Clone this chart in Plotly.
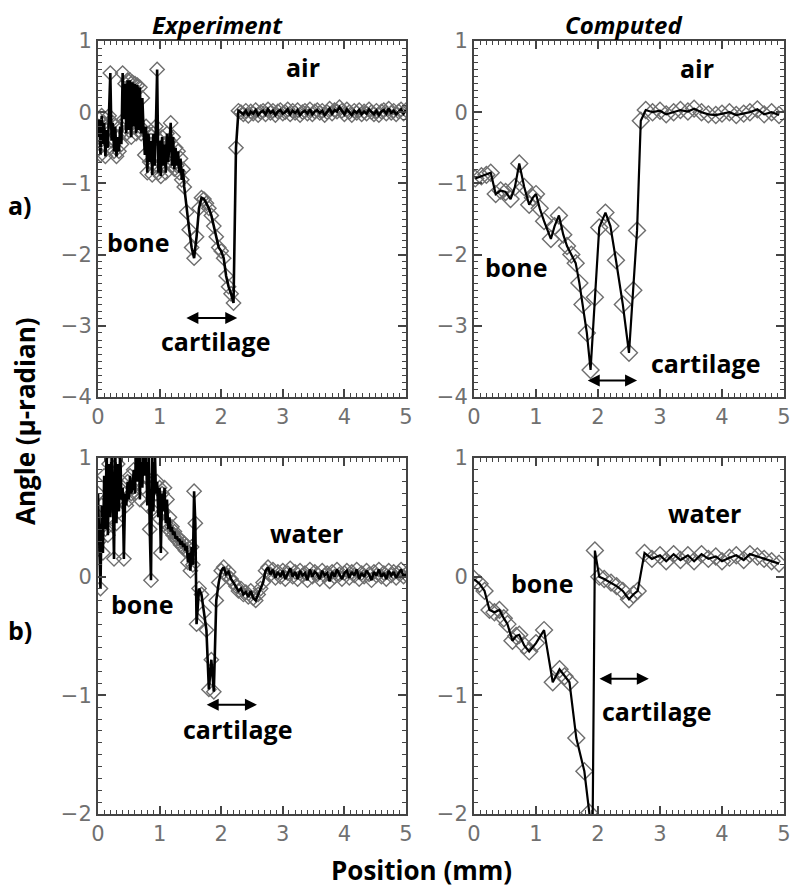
import numpy as np
import plotly.graph_objects as go

# ---------------- data ----------------
# experimental profiles: fine sampling (0.02 mm) in bone, coarser (0.04 mm) after
exp_a_fine_y = [
    -0.35, -0.10, -0.60, -0.05, -0.45, -0.15, -0.62, -0.25, -0.50, -0.05,
    0.55, -0.40, -0.15, -0.55, -0.20, -0.62, -0.35, -0.55, -0.20, -0.45,
    0.55, -0.10, 0.40, -0.30, 0.45, -0.25, 0.45, -0.35, 0.42, -0.20,
    0.40, -0.30, 0.38, -0.25, 0.35, -0.30, 0.20, -0.25, -0.60, -0.20,
    -0.85, -0.30, -0.70, -0.40, -0.88, -0.30, -0.75, -0.20, 0.60, -0.85,
    -0.40, -0.90, -0.35, -0.75, -0.45, -0.85, -0.30, -0.70, -0.40, -0.15,
    -0.75, -0.35, -0.80, -0.50, -0.75, -0.55, -0.85, -0.65, -0.95, -0.80,
    -1.05,
]
exp_a_coarse_y = [
    -1.40, -1.65, -1.90, -2.05, -1.75, -1.35, -1.20, -1.22, -1.28, -1.35,
    -1.45, -1.60, -1.75, -1.90, -1.95, -2.05, -2.30, -2.45, -2.55, -2.68,
    -0.50, 0.02, 0.00, -0.03,
    0.02, -0.05, 0.01, -0.02, 0.03, -0.04, 0.00, 0.02, -0.03, 0.04,
    -0.01, 0.02, -0.04, 0.01, 0.03, -0.02, 0.00, 0.04, -0.03, 0.02,
    -0.01, 0.03, -0.04, 0.00, 0.02, -0.02, 0.04, -0.03, 0.01, 0.03,
    -0.01, 0.02, -0.04, 0.00, 0.05, -0.02, 0.03, 0.01, 0.07, 0.02,
    -0.03, 0.04, 0.00, -0.04, 0.02, -0.01, 0.03, -0.03, 0.01, -0.02,
    0.04, 0.00, -0.03, 0.02, -0.04, 0.01, 0.03, -0.02, 0.05, -0.01,
    0.02, -0.03, 0.01, 0.04, -0.02, 0.03,
]

exp_b_fine_y = [
    0.70, 0.30, -0.10, 0.60, 0.20, 0.85, 0.40, 1.10, 0.35, 0.95,
    0.50, 1.20, 0.60, 0.15, 1.15, 0.45, 0.95, 0.55, 1.10, 0.65,
    0.75, 0.15, 0.70, 0.60, 0.80, 0.65, 0.85, 0.70, 0.75, 0.90,
    0.70, 1.20, 0.80, 1.15, 0.65, 1.10, 0.75, 1.20, 0.85, 1.10,
    0.60, 1.15, 0.40, -0.03, 1.10, 0.55, 1.15, 0.70, 0.80, 0.50,
    0.75, 0.20, 0.70, 0.55, 0.75, 0.45, 0.65, 0.40, 0.50, 0.38,
    0.42, 0.35, 0.38, 0.32, 0.34, 0.30, 0.32, 0.27, 0.30, 0.25,
    0.28, 0.22, 0.26, 0.12, 0.20, 0.05, 0.25, 0.10, 0.72, 0.45,
    -0.40,
]
exp_b_coarse_y = [
    -0.10, -0.15, -0.30, -0.45, -0.95, -0.70, -0.97, -0.20, -0.05,
    0.05, 0.08, 0.02, 0.04, -0.02, -0.05, -0.08, -0.12, -0.10, -0.15,
    -0.13, -0.17, -0.12, -0.18, -0.20, -0.15, -0.10, -0.05, 0.05, 0.08,
    0.02, 0.06, -0.01, 0.04, 0.00, 0.05, -0.02, 0.03, 0.07, 0.00,
    0.04, -0.02, 0.05, 0.01, 0.03, -0.03, 0.06, 0.00, 0.04, 0.02,
    -0.02, 0.05, 0.01, 0.03, -0.04, 0.04, 0.00, 0.06, 0.02, -0.02,
    0.03, 0.05, -0.01, 0.04, 0.01, 0.06, -0.02, 0.03, 0.00, 0.05,
    0.02, -0.03, 0.04, 0.01, 0.06, 0.00, 0.03, -0.02, 0.05, 0.01,
    0.04, -0.01, 0.03, 0.06, 0.00, 0.02,
]

comp_a_x = [0.02, 0.12, 0.20, 0.27, 0.35, 0.43, 0.51, 0.59, 0.66, 0.73,
            0.81, 0.89, 0.95, 1.00, 1.06, 1.13, 1.24, 1.30, 1.37, 1.44,
            1.50, 1.57, 1.64, 1.70, 1.75, 1.82, 1.88, 1.95, 2.02, 2.12,
            2.20, 2.29, 2.40, 2.50, 2.57, 2.63, 2.69, 2.77, 2.88, 3.00,
            3.10, 3.22, 3.33, 3.45, 3.55, 3.67, 3.78, 3.90, 4.00, 4.12,
            4.23, 4.35, 4.45, 4.57, 4.68, 4.80, 4.92]
comp_a_y = [-0.93, -0.90, -0.88, -0.85, -1.15, -1.10, -1.12, -1.22, -1.05, -0.72,
            -1.05, -1.30, -1.20, -1.15, -1.35, -1.53, -1.78, -1.60, -1.45, -1.72,
            -1.88, -2.00, -2.12, -2.40, -2.70, -3.10, -3.62, -2.60, -1.62, -1.41,
            -1.60, -2.08, -2.70, -3.38, -2.50, -1.66, -0.12, 0.03, 0.00, 0.02,
            -0.03, 0.00, 0.03, 0.01, 0.05, 0.00, -0.03, -0.04, -0.02, 0.00,
            -0.04, -0.02, 0.00, 0.04, -0.03, 0.00, -0.04]

comp_b_x = [0.00, 0.09, 0.17, 0.25, 0.33, 0.41, 0.48, 0.54, 0.62, 0.68,
            0.73, 0.81, 0.89, 1.00, 1.13, 1.27, 1.38, 1.46, 1.54, 1.65,
            1.78, 1.86, 1.91, 1.95, 2.02, 2.10, 2.21, 2.30, 2.40, 2.50,
            2.57, 2.64, 2.75, 2.87, 3.00, 3.10, 3.22, 3.33, 3.45, 3.55,
            3.67, 3.78, 3.90, 4.00, 4.12, 4.23, 4.35, 4.45, 4.57, 4.68,
            4.80, 4.92]
comp_b_y = [-0.02, -0.06, -0.12, -0.28, -0.30, -0.28, -0.35, -0.40, -0.54, -0.50,
            -0.49, -0.58, -0.63, -0.56, -0.45, -0.89, -0.78, -0.84, -0.89, -1.36,
            -1.64, -1.99, -2.30, 0.22, 0.00, -0.02, -0.05, -0.08, -0.12, -0.19,
            -0.15, -0.12, 0.20, 0.15, 0.18, 0.13, 0.19, 0.14, 0.18, 0.13,
            0.19, 0.15, 0.17, 0.13, 0.16, 0.18, 0.14, 0.19, 0.17, 0.15,
            0.13, 0.11]

x_ticks = [0, 1, 2, 3, 4, 5]
y_ticks_top = [-4, -3, -2, -1, 0, 1]
y_ticks_bottom = [-2, -1, 0, 1]


def sample_x(n, step, start):
    return np.round(start + np.arange(n) * step, 3)


exp_a_x = np.concatenate([sample_x(len(exp_a_fine_y), 0.02, 0.0),
                          sample_x(len(exp_a_coarse_y), 0.04, 1.44)])
exp_a_y = exp_a_fine_y + exp_a_coarse_y
exp_b_x = np.concatenate([sample_x(len(exp_b_fine_y), 0.02, 0.0),
                          sample_x(len(exp_b_coarse_y), 0.04, 1.64)])
exp_b_y = exp_b_fine_y + exp_b_coarse_y

# ---------------- figure ----------------
W, H, OFF = 800, 896, 8   # page body margin offsets the figure by 8 px


def px(xp):
    return (xp - OFF) / W


def py(yp):
    return 1 - (yp - OFF) / H


fig = go.Figure()


def add_series(x, y, xa, ya, msize, lw):
    # gray open diamonds underneath, black connecting line on top
    fig.add_trace(go.Scatter(
        x=x, y=y, xaxis=xa, yaxis=ya, mode="markers",
        marker=dict(symbol="diamond-open", size=msize,
                    color="#6e6e6e", line=dict(color="#6e6e6e", width=1.4)),
        showlegend=False, hoverinfo="skip"))
    fig.add_trace(go.Scatter(
        x=x, y=y, xaxis=xa, yaxis=ya, mode="lines",
        line=dict(color="black", width=lw),
        showlegend=False, hoverinfo="skip"))


add_series(exp_a_x, exp_a_y, "x", "y", 11, 2.6)
add_series(comp_a_x, comp_a_y, "x2", "y2", 13, 2.2)
add_series(exp_b_x, exp_b_y, "x3", "y3", 11, 2.6)
add_series(comp_b_x, comp_b_y, "x4", "y4", 13, 2.2)

TICKFONT = dict(family="DejaVu Sans", size=21, color="#707070")


def xaxis_cfg(domain, anchor):
    return dict(domain=domain, anchor=anchor, range=[0, 5], tickvals=x_ticks,
                ticks="inside", ticklen=8, tickwidth=1.5, tickcolor="#444",
                showline=True, linecolor="#444", linewidth=2, mirror="allticks",
                showgrid=False, zeroline=False, tickfont=TICKFONT, automargin=False,
                minor=dict(dtick=0.1, ticks="inside", ticklen=4, tickcolor="#444",
                           tickwidth=1, showgrid=False))


def yaxis_cfg(domain, anchor, rng, ticks, minor_dtick):
    return dict(domain=domain, anchor=anchor, range=rng, tickvals=ticks,
                ticks="inside", ticklen=8, tickwidth=1.5, tickcolor="#444",
                showline=True, linecolor="#444", linewidth=2, mirror="allticks",
                showgrid=False, zeroline=False, tickfont=TICKFONT, automargin=False,
                minor=dict(dtick=minor_dtick, ticks="inside", ticklen=4,
                           tickcolor="#444", tickwidth=1, showgrid=False))


top_dom = [py(397), py(41)]
bot_dom = [py(814), py(458)]
left_dom = [px(98), px(406)]
right_dom = [px(474), px(784)]

fig.update_layout(
    width=W, height=H,
    margin=dict(l=0, r=0, t=0, b=0, autoexpand=False),
    paper_bgcolor="white", plot_bgcolor="white",
    xaxis=xaxis_cfg(left_dom, "y"),
    yaxis=yaxis_cfg(top_dom, "x", [-4, 1], y_ticks_top, 0.1),
    xaxis2=xaxis_cfg(right_dom, "y2"),
    yaxis2=yaxis_cfg(top_dom, "x2", [-4, 1], y_ticks_top, 0.1),
    xaxis3=xaxis_cfg(left_dom, "y3"),
    yaxis3=yaxis_cfg(bot_dom, "x3", [-2, 1], y_ticks_bottom, 0.1),
    xaxis4=xaxis_cfg(right_dom, "y4"),
    yaxis4=yaxis_cfg(bot_dom, "x4", [-2, 1], y_ticks_bottom, 0.1),
)

LBL = dict(family="Open Sans", size=25, color="black", weight="bold")


def label(text, x, y, xr, yr, size=25):
    fig.add_annotation(text=text, x=x, y=y, xref=xr, yref=yr, showarrow=False,
                       xanchor="center", yanchor="middle",
                       font=dict(LBL, size=size))


def paper_label(text, xp, yp, size, angle=0):
    fig.add_annotation(text=text, x=px(xp), y=py(yp), xref="paper", yref="paper",
                       showarrow=False, xanchor="center", yanchor="middle",
                       textangle=angle, borderpad=0, font=dict(LBL, size=size))


def dbl_arrow(x0, x1, y, xr, yr):
    fig.add_annotation(x=x1, y=y, ax=x0, ay=y, xref=xr, yref=yr, axref=xr, ayref=yr,
                       text="", showarrow=True, arrowhead=2, startarrowhead=2,
                       arrowside="end+start", arrowsize=1.2, arrowwidth=2,
                       arrowcolor="black")


# panel a) experiment
label("air", 3.33, 0.63, "x", "y")
label("bone", 0.65, -1.82, "x", "y")
label("cartilage", 1.90, -3.22, "x", "y")
dbl_arrow(1.41, 2.26, -2.89, "x", "y")
# panel a) computed
label("air", 3.6, 0.62, "x2", "y2")
label("bone", 0.68, -2.18, "x2", "y2")
label("cartilage", 3.74, -3.52, "x2", "y2")
dbl_arrow(1.81, 2.63, -3.77, "x2", "y2")
# panel b) experiment
label("water", 3.39, 0.37, "x3", "y3")
label("bone", 0.73, -0.23, "x3", "y3")
label("cartilage", 2.27, -1.28, "x3", "y3")
dbl_arrow(1.74, 2.58, -1.08, "x3", "y3")
# panel b) computed
label("water", 3.71, 0.54, "x4", "y4")
label("bone", 1.11, -0.05, "x4", "y4")
label("cartilage", 2.94, -1.13, "x4", "y4")
dbl_arrow(2.0, 2.82, -0.86, "x4", "y4")

# titles and outer labels
paper_label("<i>Experiment</i>", 217, 24, 24)
paper_label("<i>Computed</i>", 623, 24, 24)
paper_label("a)", 20, 205, 25)
paper_label("b)", 20, 630, 25)
paper_label("Position (mm)", 422, 870, 26)
paper_label("Angle (μ-radian)", 25, 421, 26, angle=-90)

fig.write_html("out.html")
